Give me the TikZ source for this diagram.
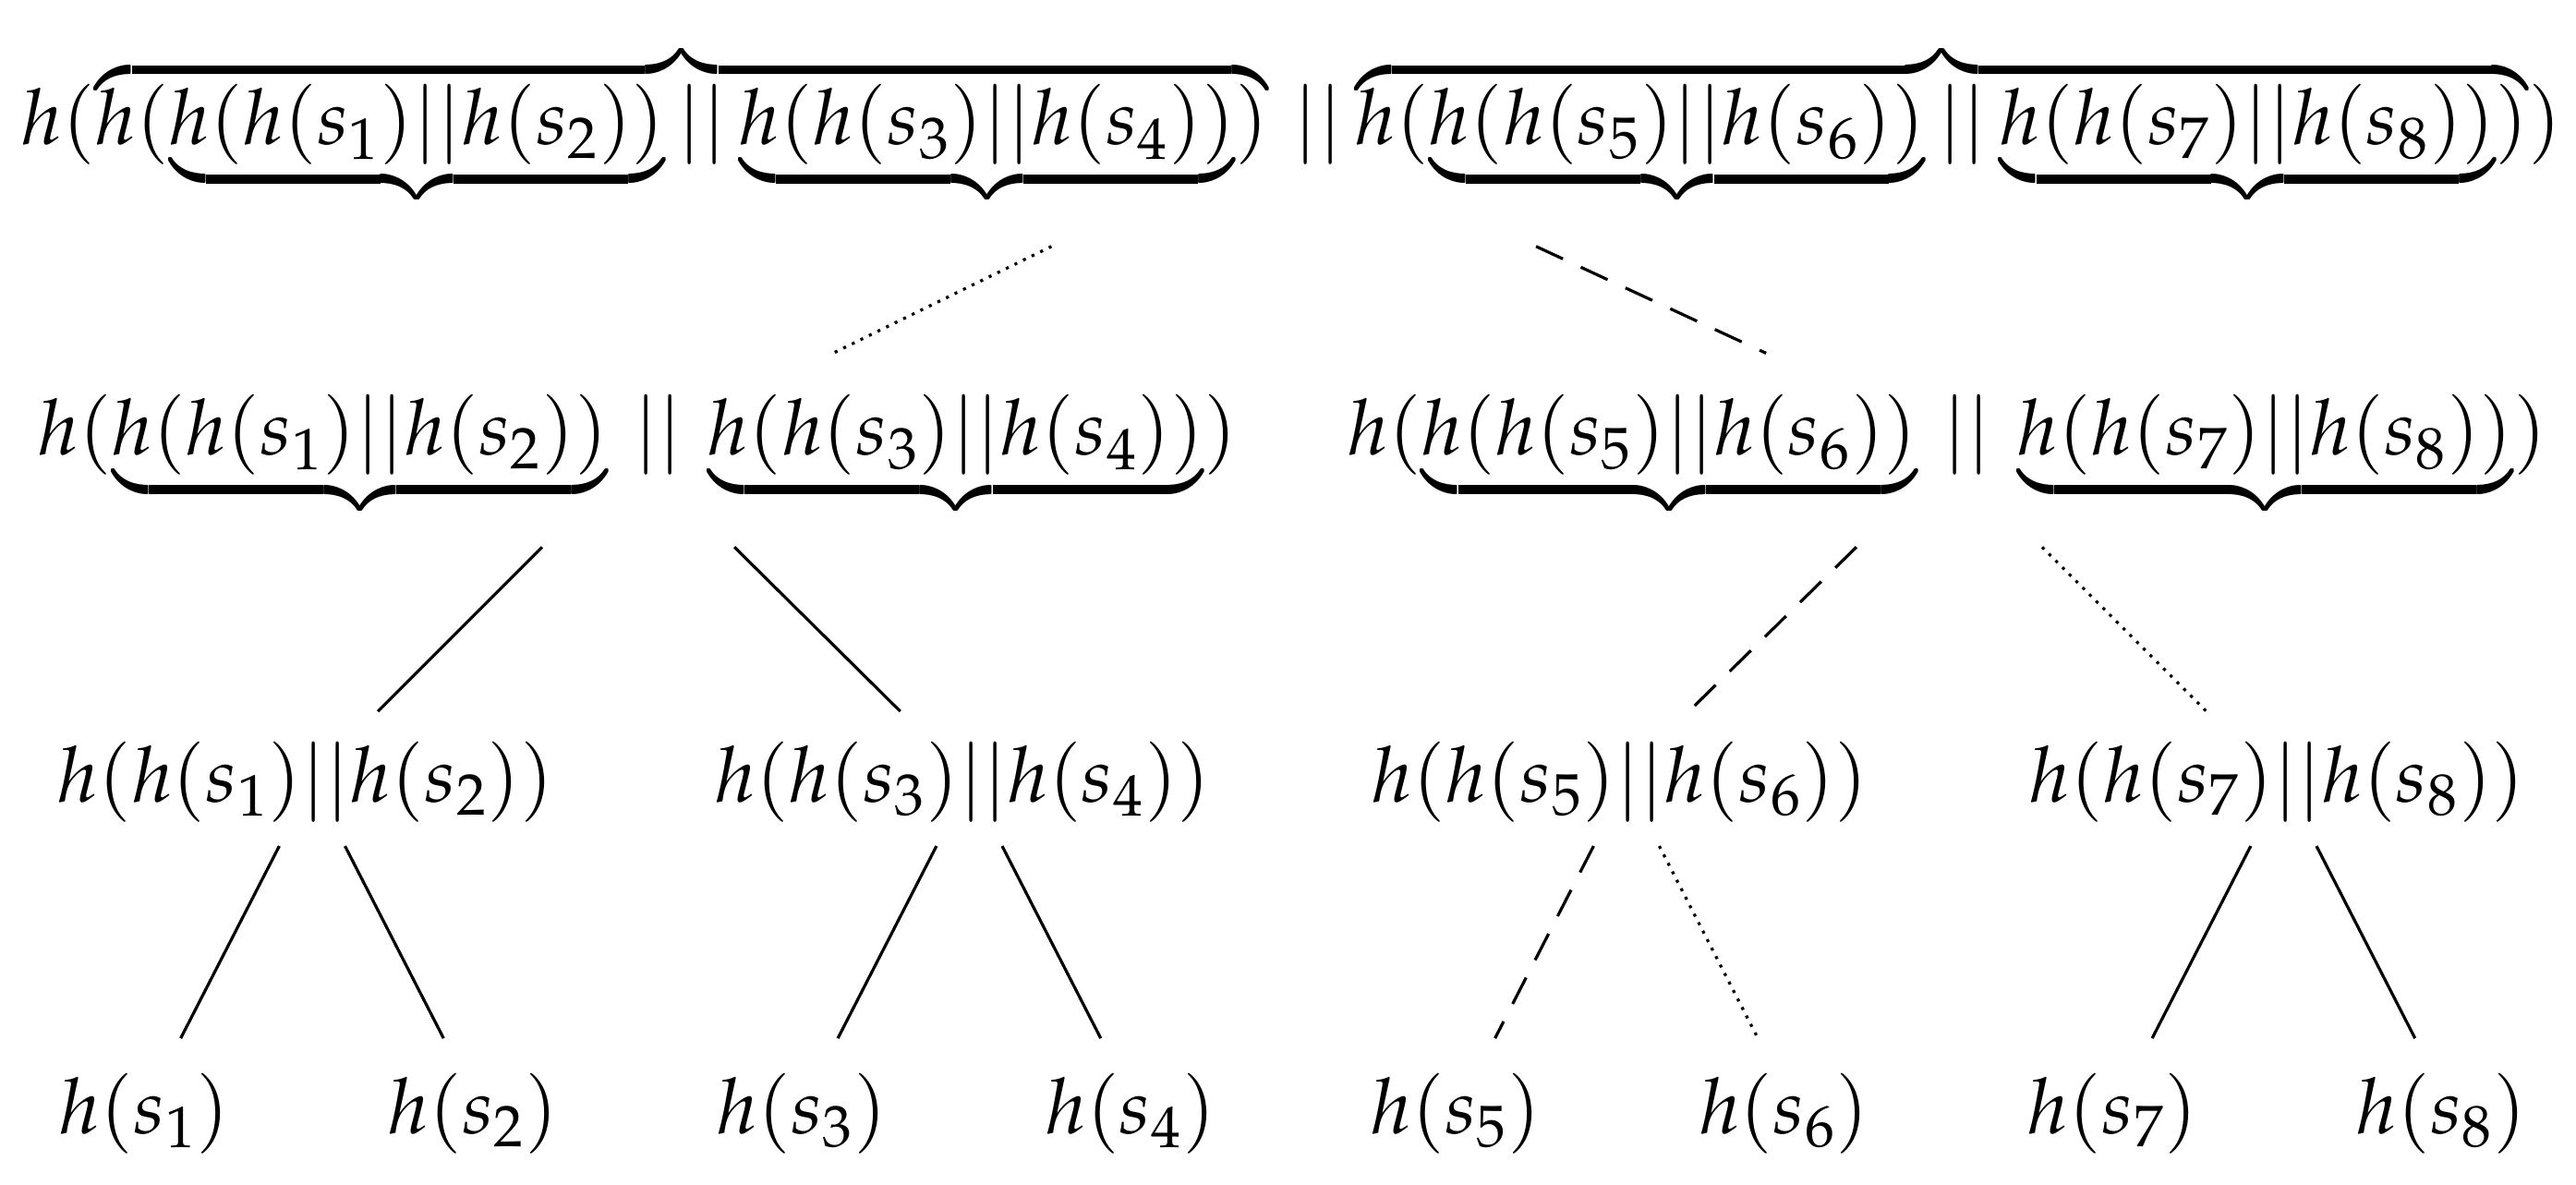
\documentclass[tikz,border=0pt]{standalone}
\usepackage{mathpazo}
\begin{document}
\begin{tikzpicture}[x=0.5pt,y=-0.5pt,
  lbl/.style={anchor=base,inner sep=0pt,font=\fontsize{23.5}{28}\selectfont},
  edge/.style={line width=0.9pt}]
\useasboundingbox (0,0) rectangle (1568,721);
\node[lbl] (r1) at (786,88) {$h(\overbrace{h(\underbrace{h(h(s_1)||h(s_2))}||\underbrace{h(h(s_3)||h(s_4))})}\,||\overbrace{h(\underbrace{h(h(s_5)||h(s_6))}||\underbrace{h(h(s_7)||h(s_8))})})$};
\node[lbl] (r2a) at (388,277) {$h(\underbrace{h(h(s_1)||h(s_2))}\,||\,\underbrace{h(h(s_3)||h(s_4))})$};
\node[lbl] (r2b) at (1185,277) {$h(\underbrace{h(h(s_5)||h(s_6))}\,||\,\underbrace{h(h(s_7)||h(s_8))})$};
\node[lbl] (n1) at (186,488) {$h(h(s_1)||h(s_2))$};
\node[lbl] (n2) at (586,488) {$h(h(s_3)||h(s_4))$};
\node[lbl] (n3) at (986,488) {$h(h(s_5)||h(s_6))$};
\node[lbl] (n4) at (1386,488) {$h(h(s_7)||h(s_8))$};
\foreach \i/\x in {1/88,2/288,3/488,4/688,5/886,6/1086,7/1286,8/1486}
  \node[lbl] (l\i) at (\x,690) {$h(s_{\i})$};
\coordinate (a1) at (640,150); \coordinate (a2) at (507,215);
\coordinate (b1) at (935,150); \coordinate (b2) at (1075,215);
\coordinate (c1) at (330,333); \coordinate (c2) at (230,433);
\coordinate (d1) at (447,333); \coordinate (d2) at (548,433);
\coordinate (e1) at (1130,333); \coordinate (e2) at (1028,433);
\coordinate (f1) at (1243,333); \coordinate (f2) at (1343,433);
\draw[edge,dotted] (a1) -- (a2);
\draw[edge,dash pattern=on 9pt off 6pt] (b1) -- (b2);
\draw[edge] (c1) -- (c2);
\draw[edge] (d1) -- (d2);
\draw[edge,dash pattern=on 9pt off 6pt] (e1) -- (e2);
\draw[edge,dotted] (f1) -- (f2);
\foreach \n/\x in {n1/186,n2/586,n3/986,n4/1386}{
  \coordinate (\n L1) at (\x-16,515); \coordinate (\n L2) at (\x-76,632);
  \coordinate (\n R1) at (\x+24,515); \coordinate (\n R2) at (\x+84,632);}
\draw[edge] (n1L1) -- (n1L2); \draw[edge] (n1R1) -- (n1R2);
\draw[edge] (n2L1) -- (n2L2); \draw[edge] (n2R1) -- (n2R2);
\draw[edge,dash pattern=on 9pt off 6pt] (n3L1) -- (n3L2); \draw[edge,dotted] (n3R1) -- (n3R2);
\draw[edge] (n4L1) -- (n4L2); \draw[edge] (n4R1) -- (n4R2);
\end{tikzpicture}
\end{document}
